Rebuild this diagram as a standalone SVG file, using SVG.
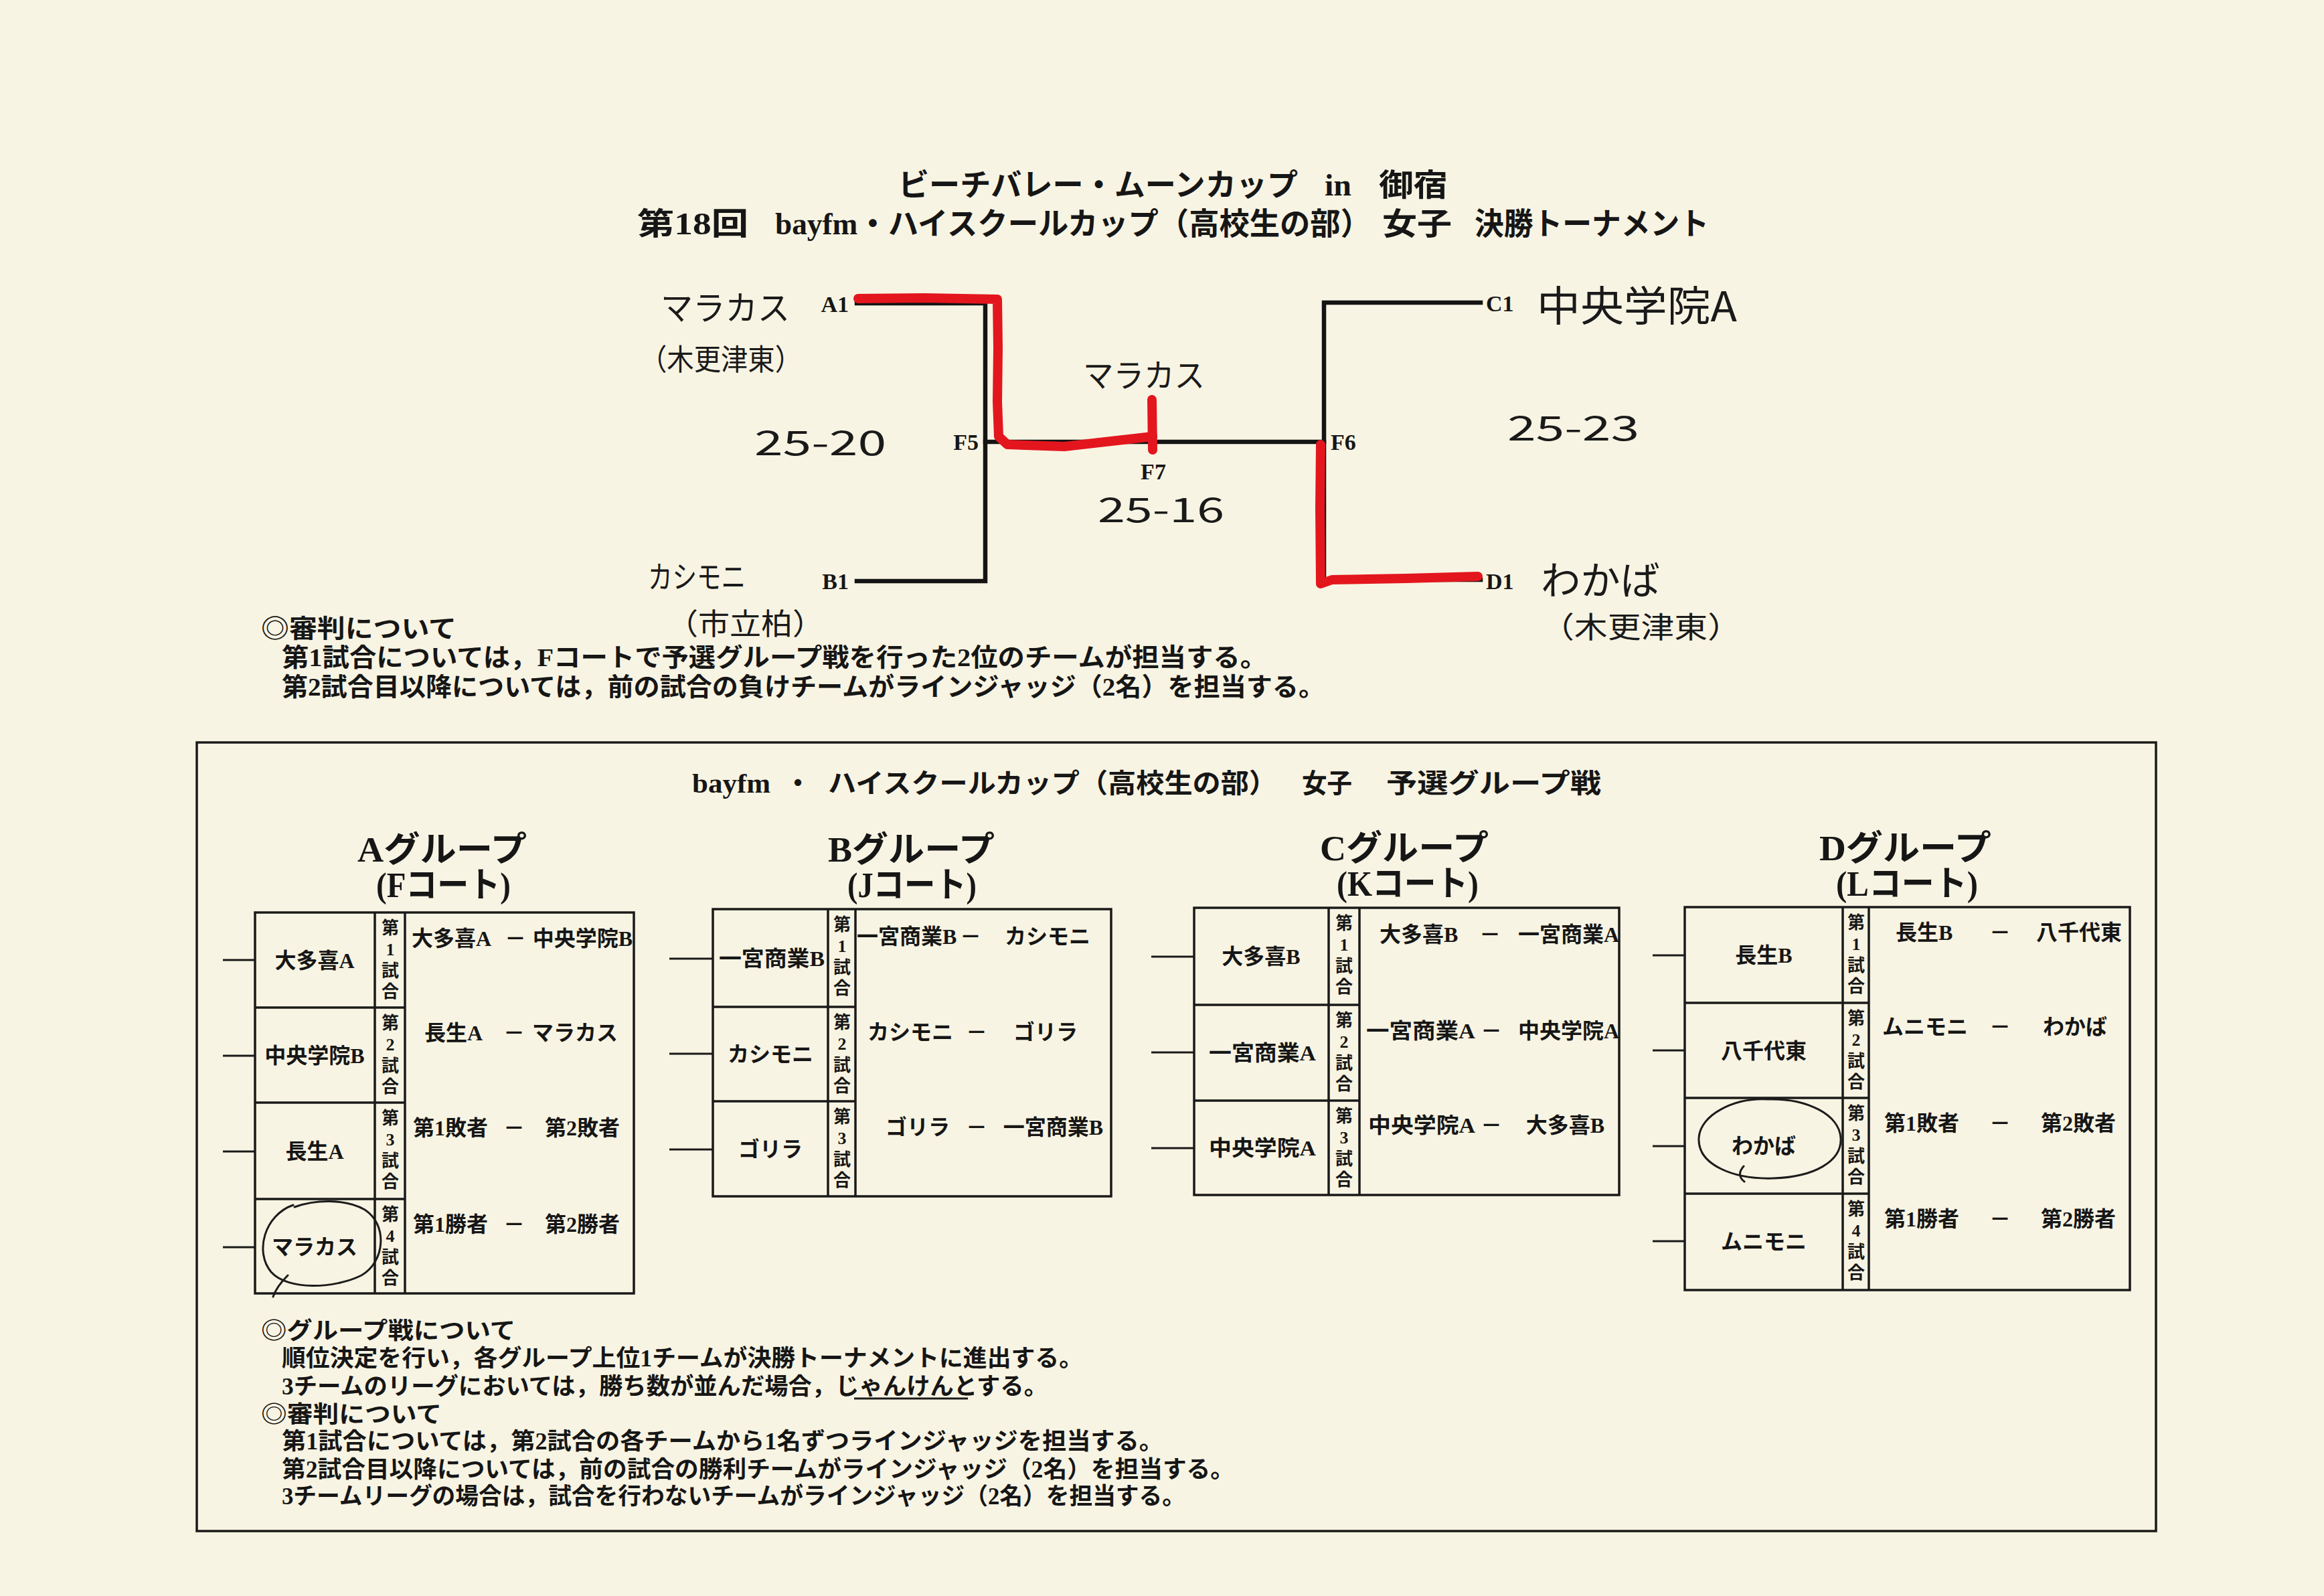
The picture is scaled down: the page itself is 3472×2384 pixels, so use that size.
<svg xmlns="http://www.w3.org/2000/svg" width="3472" height="2384" viewBox="0 0 3472 2384">
<defs>
<style>
.bg{fill:#f8f4e3}
.t{font-family:"Liberation Serif","Noto Sans CJK JP",serif;font-weight:bold;fill:#161616}
.hw{font-family:"Noto Sans CJK JP",sans-serif;font-weight:normal;fill:#1a1a1a}
.ln{stroke:#141414;stroke-width:6.5;fill:none;stroke-linecap:square}
.red{stroke:#e3161e;stroke-width:14;fill:none;stroke-linecap:round;stroke-linejoin:round}
.box{fill:none;stroke:#1a1a1a;stroke-width:3.5}
.cell{fill:none;stroke:#1a1a1a;stroke-width:3.5}
.tk{stroke:#1a1a1a;stroke-width:3}
.pen{fill:none;stroke:#1c1c1c;stroke-width:3;stroke-linecap:round}
.ttl{font-size:46px}
.lbl{font-size:34px}
.hdr{font-size:52px}
.nm{font-size:32px}
.vc{font-size:26px;text-anchor:middle}
.nt1{font-size:38px}
.nt2{font-size:35px}
</style>
</defs>
<rect class="bg" x="0" y="0" width="3472" height="2384"/>

<g id="title">
<text class="t ttl" x="1342" y="292" textLength="597" lengthAdjust="spacingAndGlyphs">ビーチバレー・ムーンカップ</text>
<text class="t ttl" x="1979" y="292" textLength="40" lengthAdjust="spacingAndGlyphs">in</text>
<text class="t ttl" x="2060" y="292" textLength="103" lengthAdjust="spacingAndGlyphs">御宿</text>
<text class="t ttl" x="952" y="350" textLength="166" lengthAdjust="spacingAndGlyphs">第18回</text>
<text class="t ttl" x="1158" y="350" textLength="890" lengthAdjust="spacingAndGlyphs">bayfm・ハイスクールカップ（高校生の部）</text>
<text class="t ttl" x="2065" y="350" textLength="104" lengthAdjust="spacingAndGlyphs">女子</text>
<text class="t ttl" x="2203" y="350" textLength="350" lengthAdjust="spacingAndGlyphs">決勝トーナメント</text>
</g>

<g id="connectors">
<path class="ln" d="M1280,453 H1472 V868 H1280"/>
<path class="ln" d="M1472,660 H1978"/>
<path class="ln" d="M1723,620 V660"/>
<path class="ln" d="M2212,452 H1978 V866 H2212"/>
</g>

<g id="red-marks">
<path class="red" d="M1282,446 L1380,445 L1490,447 L1491,520 L1490,600 L1492,652 L1505,664 L1590,667 L1660,659 L1722,652"/>
<path class="red" d="M1721,597 L1722,672"/>
<path class="red" d="M1973,664 L1972,760 L1973,872 L1990,866 L2100,864 L2208,861"/>
</g>

<g id="node-A1"><text class="t lbl" x="1268" y="466" text-anchor="end">A1</text></g>
<g id="node-B1"><text class="t lbl" x="1268" y="880" text-anchor="end">B1</text></g>
<g id="node-F5"><text class="t lbl" x="1462" y="672" text-anchor="end">F5</text></g>
<g id="node-F6"><text class="t lbl" x="1988" y="672">F6</text></g>
<g id="node-F7"><text class="t lbl" x="1723" y="716" text-anchor="middle">F7</text></g>
<g id="node-C1"><text class="t lbl" x="2220" y="465">C1</text></g>
<g id="node-D1"><text class="t lbl" x="2220" y="880">D1</text></g>

<g id="handwriting">
<text class="hw" x="987" y="478" font-size="50" textLength="193" lengthAdjust="spacingAndGlyphs">マラカス</text>
<text class="hw" x="956" y="553" font-size="44" textLength="242" lengthAdjust="spacingAndGlyphs">（木更津東）</text>
<text class="hw" x="1127" y="680" font-size="50" textLength="197" lengthAdjust="spacingAndGlyphs">25-20</text>
<text class="hw" x="1618" y="578" font-size="48" textLength="182" lengthAdjust="spacingAndGlyphs">マラカス</text>
<text class="hw" x="1640" y="780" font-size="50" textLength="189" lengthAdjust="spacingAndGlyphs">25-16</text>
<text class="hw" x="2252" y="658" font-size="50" textLength="197" lengthAdjust="spacingAndGlyphs">25-23</text>
<text class="hw" x="2296" y="480" font-size="62" textLength="299" lengthAdjust="spacingAndGlyphs">中央学院A</text>
<text class="hw" x="968" y="878" font-size="46" textLength="146" lengthAdjust="spacingAndGlyphs">カシモニ</text>
<text class="hw" x="996" y="948" font-size="44" textLength="235" lengthAdjust="spacingAndGlyphs">（市立柏）</text>
<text class="hw" x="2302" y="888" font-size="58" textLength="178" lengthAdjust="spacingAndGlyphs">わかば</text>
<text class="hw" x="2302" y="953" font-size="44" textLength="299" lengthAdjust="spacingAndGlyphs">（木更津東）</text>
</g>

<g id="notes-top">
<text class="t nt1" x="390" y="952" textLength="292" lengthAdjust="spacingAndGlyphs">◎審判について</text>
<text class="t nt1" x="421" y="995" textLength="1472" lengthAdjust="spacingAndGlyphs">第1試合については，Fコートで予選グループ戦を行った2位のチームが担当する。</text>
<text class="t nt1" x="421" y="1039" textLength="1558" lengthAdjust="spacingAndGlyphs">第2試合目以降については，前の試合の負けチームがラインジャッジ（2名）を担当する。</text>
</g>

<g id="group-stage-box">
<rect class="box" x="294" y="1109" width="2927" height="1178"/>
<text class="t" font-size="40" x="1034" y="1184" textLength="117" lengthAdjust="spacingAndGlyphs">bayfm</text>
<text class="t" font-size="40" x="1192" y="1184" text-anchor="middle">・</text>
<text class="t" font-size="40" x="1237" y="1184" textLength="671" lengthAdjust="spacingAndGlyphs">ハイスクールカップ（高校生の部）</text>
<text class="t" font-size="40" x="1945" y="1184" textLength="75" lengthAdjust="spacingAndGlyphs">女子</text>
<text class="t" font-size="40" x="2071" y="1184" textLength="321" lengthAdjust="spacingAndGlyphs">予選グループ戦</text>
</g>

<g id="group-A">
<text class="t hdr" x="534" y="1287" textLength="253" lengthAdjust="spacingAndGlyphs">Aグループ</text>
<text class="t hdr" x="562" y="1340" textLength="201" lengthAdjust="spacingAndGlyphs">(Fコート)</text>
<rect class="cell" x="381" y="1363" width="566" height="569"/>
<path class="cell" d="M560,1363 V1932 M605,1363 V1932 M381,1505 H605 M381,1647 H605 M381,1791 H605"/>
<path class="tk" d="M333,1434 H381 M333,1577 H381 M333,1720 H381 M333,1863 H381"/>
<text class="t nm" x="470" y="1446" text-anchor="middle">大多喜A</text>
<text class="t nm" x="470" y="1588" text-anchor="middle">中央学院B</text>
<text class="t nm" x="470" y="1731" text-anchor="middle">長生A</text>
<text class="t nm" x="470" y="1874" text-anchor="middle">マラカス</text>
<text class="t vc" x="583" y="1395">第</text><text class="t vc" x="583" y="1427">1</text><text class="t vc" x="583" y="1459">試</text><text class="t vc" x="583" y="1490">合</text>
<text class="t vc" x="583" y="1537">第</text><text class="t vc" x="583" y="1569">2</text><text class="t vc" x="583" y="1601">試</text><text class="t vc" x="583" y="1632">合</text>
<text class="t vc" x="583" y="1679">第</text><text class="t vc" x="583" y="1711">3</text><text class="t vc" x="583" y="1743">試</text><text class="t vc" x="583" y="1774">合</text>
<text class="t vc" x="583" y="1823">第</text><text class="t vc" x="583" y="1855">4</text><text class="t vc" x="583" y="1887">試</text><text class="t vc" x="583" y="1918">合</text>
<text class="t nm" x="615" y="1413">大多喜A</text><text class="t nm" x="770" y="1413" text-anchor="middle">－</text><text class="t nm" x="945" y="1413" text-anchor="end">中央学院B</text>
<text class="t nm" x="634" y="1554">長生A</text><text class="t nm" x="768" y="1554" text-anchor="middle">－</text><text class="t nm" x="923" y="1554" text-anchor="end">マラカス</text>
<text class="t nm" x="617" y="1696">第1敗者</text><text class="t nm" x="768" y="1696" text-anchor="middle">－</text><text class="t nm" x="926" y="1696" text-anchor="end">第2敗者</text>
<text class="t nm" x="617" y="1840">第1勝者</text><text class="t nm" x="768" y="1840" text-anchor="middle">－</text><text class="t nm" x="926" y="1840" text-anchor="end">第2勝者</text>
<path class="pen" d="M438,1800 C395,1815 380,1870 405,1900 C430,1928 500,1925 540,1905 C575,1885 580,1830 545,1807 C515,1790 470,1792 440,1803 M430,1905 C420,1915 412,1925 408,1937"/>
</g>

<g id="group-B">
<text class="t hdr" x="1237" y="1287" textLength="249" lengthAdjust="spacingAndGlyphs">Bグループ</text>
<text class="t hdr" x="1266" y="1340" textLength="193" lengthAdjust="spacingAndGlyphs">(Jコート)</text>
<rect class="cell" x="1065" y="1358" width="595" height="429"/>
<path class="cell" d="M1237,1358 V1787 M1278,1358 V1787 M1065,1504 H1278 M1065,1645 H1278"/>
<path class="tk" d="M1000,1432 H1065 M1000,1574 H1065 M1000,1717 H1065"/>
<text class="t nm" x="1153" y="1443" text-anchor="middle" textLength="158" lengthAdjust="spacingAndGlyphs">一宮商業B</text>
<text class="t nm" x="1151" y="1586" text-anchor="middle">カシモニ</text>
<text class="t nm" x="1151" y="1728" text-anchor="middle">ゴリラ</text>
<text class="t vc" x="1258" y="1390">第</text><text class="t vc" x="1258" y="1422">1</text><text class="t vc" x="1258" y="1454">試</text><text class="t vc" x="1258" y="1485">合</text>
<text class="t vc" x="1258" y="1536">第</text><text class="t vc" x="1258" y="1568">2</text><text class="t vc" x="1258" y="1600">試</text><text class="t vc" x="1258" y="1631">合</text>
<text class="t vc" x="1258" y="1677">第</text><text class="t vc" x="1258" y="1709">3</text><text class="t vc" x="1258" y="1741">試</text><text class="t vc" x="1258" y="1772">合</text>
<text class="t nm" x="1280" y="1410">一宮商業B</text><text class="t nm" x="1450" y="1410" text-anchor="middle">－</text><text class="t nm" x="1629" y="1410" text-anchor="end">カシモニ</text>
<text class="t nm" x="1296" y="1553">カシモニ</text><text class="t nm" x="1459" y="1553" text-anchor="middle">－</text><text class="t nm" x="1610" y="1553" text-anchor="end">ゴリラ</text>
<text class="t nm" x="1323" y="1695">ゴリラ</text><text class="t nm" x="1459" y="1695" text-anchor="middle">－</text><text class="t nm" x="1648" y="1695" text-anchor="end">一宮商業B</text>
</g>

<g id="group-C">
<text class="t hdr" x="1972" y="1285" textLength="252" lengthAdjust="spacingAndGlyphs">Cグループ</text>
<text class="t hdr" x="1997" y="1338" textLength="212" lengthAdjust="spacingAndGlyphs">(Kコート)</text>
<rect class="cell" x="1784" y="1356" width="635" height="429"/>
<path class="cell" d="M1985,1356 V1785 M2031,1356 V1785 M1784,1501 H2031 M1784,1644 H2031"/>
<path class="tk" d="M1720,1429 H1784 M1720,1572 H1784 M1720,1715 H1784"/>
<text class="t nm" x="1884" y="1440" text-anchor="middle">大多喜B</text>
<text class="t nm" x="1886" y="1584" text-anchor="middle" textLength="160" lengthAdjust="spacingAndGlyphs">一宮商業A</text>
<text class="t nm" x="1886" y="1726" text-anchor="middle" textLength="160" lengthAdjust="spacingAndGlyphs">中央学院A</text>
<text class="t vc" x="2008" y="1388">第</text><text class="t vc" x="2008" y="1420">1</text><text class="t vc" x="2008" y="1452">試</text><text class="t vc" x="2008" y="1483">合</text>
<text class="t vc" x="2008" y="1533">第</text><text class="t vc" x="2008" y="1565">2</text><text class="t vc" x="2008" y="1597">試</text><text class="t vc" x="2008" y="1628">合</text>
<text class="t vc" x="2008" y="1676">第</text><text class="t vc" x="2008" y="1708">3</text><text class="t vc" x="2008" y="1740">試</text><text class="t vc" x="2008" y="1771">合</text>
<text class="t nm" x="2061" y="1407">大多喜B</text><text class="t nm" x="2226" y="1407" text-anchor="middle">－</text><text class="t nm" x="2419" y="1407" text-anchor="end">一宮商業A</text>
<text class="t nm" x="2041" y="1551" textLength="163" lengthAdjust="spacingAndGlyphs">一宮商業A</text><text class="t nm" x="2228" y="1551" text-anchor="middle">－</text><text class="t nm" x="2419" y="1551" text-anchor="end">中央学院A</text>
<text class="t nm" x="2044" y="1692" textLength="160" lengthAdjust="spacingAndGlyphs">中央学院A</text><text class="t nm" x="2228" y="1692" text-anchor="middle">－</text><text class="t nm" x="2397" y="1692" text-anchor="end">大多喜B</text>
</g>

<g id="group-D">
<text class="t hdr" x="2718" y="1285" textLength="257" lengthAdjust="spacingAndGlyphs">Dグループ</text>
<text class="t hdr" x="2743" y="1338" textLength="212" lengthAdjust="spacingAndGlyphs">(Lコート)</text>
<rect class="cell" x="2517" y="1355" width="665" height="572"/>
<path class="cell" d="M2753,1355 V1927 M2792,1355 V1927 M2517,1498 H2792 M2517,1640 H2792 M2517,1783 H2792"/>
<path class="tk" d="M2469,1427 H2517 M2469,1569 H2517 M2469,1712 H2517 M2469,1854 H2517"/>
<text class="t nm" x="2635" y="1438" text-anchor="middle">長生B</text>
<text class="t nm" x="2635" y="1581" text-anchor="middle">八千代東</text>
<text class="t nm" x="2635" y="1723" text-anchor="middle">わかば</text>
<text class="t nm" x="2635" y="1866" text-anchor="middle">ムニモニ</text>
<text class="t vc" x="2773" y="1387">第</text><text class="t vc" x="2773" y="1419">1</text><text class="t vc" x="2773" y="1451">試</text><text class="t vc" x="2773" y="1482">合</text>
<text class="t vc" x="2773" y="1530">第</text><text class="t vc" x="2773" y="1562">2</text><text class="t vc" x="2773" y="1594">試</text><text class="t vc" x="2773" y="1625">合</text>
<text class="t vc" x="2773" y="1672">第</text><text class="t vc" x="2773" y="1704">3</text><text class="t vc" x="2773" y="1736">試</text><text class="t vc" x="2773" y="1767">合</text>
<text class="t vc" x="2773" y="1815">第</text><text class="t vc" x="2773" y="1847">4</text><text class="t vc" x="2773" y="1879">試</text><text class="t vc" x="2773" y="1910">合</text>
<text class="t nm" x="2832" y="1404">長生B</text><text class="t nm" x="2988" y="1404" text-anchor="middle">－</text><text class="t nm" x="3170" y="1404" text-anchor="end">八千代東</text>
<text class="t nm" x="2812" y="1545">ムニモニ</text><text class="t nm" x="2988" y="1545" text-anchor="middle">－</text><text class="t nm" x="3148" y="1545" text-anchor="end">わかば</text>
<text class="t nm" x="2815" y="1689">第1敗者</text><text class="t nm" x="2988" y="1689" text-anchor="middle">－</text><text class="t nm" x="3161" y="1689" text-anchor="end">第2敗者</text>
<text class="t nm" x="2815" y="1832">第1勝者</text><text class="t nm" x="2988" y="1832" text-anchor="middle">－</text><text class="t nm" x="3161" y="1832" text-anchor="end">第2勝者</text>
<path class="pen" d="M2640,1642 C2590,1640 2540,1665 2538,1700 C2536,1740 2590,1762 2650,1760 C2710,1758 2752,1735 2750,1700 C2748,1665 2700,1640 2640,1642 M2605,1742 C2598,1750 2597,1758 2606,1765"/>
</g>

<g id="notes-bottom">
<text class="t nt2" x="390" y="2000" textLength="380" lengthAdjust="spacingAndGlyphs">◎グループ戦について</text>
<text class="t nt2" x="421" y="2041" textLength="1197" lengthAdjust="spacingAndGlyphs">順位決定を行い，各グループ上位1チームが決勝トーナメントに進出する。</text>
<text class="t nt2" x="421" y="2083" textLength="1144" lengthAdjust="spacingAndGlyphs">3チームのリーグにおいては，勝ち数が並んだ場合，じゃんけんとする。</text>
<path class="tk" d="M1276,2089 H1446"/>
<text class="t nt2" x="390" y="2125" textLength="270" lengthAdjust="spacingAndGlyphs">◎審判について</text>
<text class="t nt2" x="421" y="2165" textLength="1317" lengthAdjust="spacingAndGlyphs">第1試合については，第2試合の各チームから1名ずつラインジャッジを担当する。</text>
<text class="t nt2" x="421" y="2207" textLength="1423" lengthAdjust="spacingAndGlyphs">第2試合目以降については，前の試合の勝利チームがラインジャッジ（2名）を担当する。</text>
<text class="t nt2" x="421" y="2247" textLength="1350" lengthAdjust="spacingAndGlyphs">3チームリーグの場合は，試合を行わないチームがラインジャッジ（2名）を担当する。</text>
</g>
</svg>
